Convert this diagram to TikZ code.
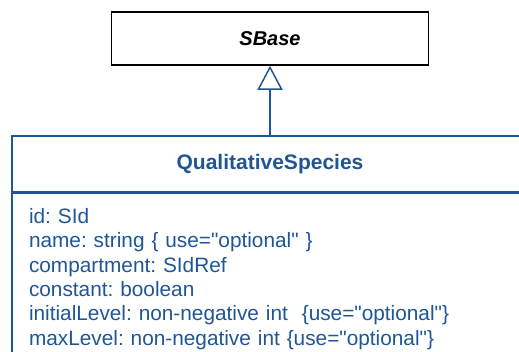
\documentclass[tikz,border=0pt]{standalone}
\usepackage{fontspec}
\setmainfont{Liberation Sans}[Ligatures=TeXOff]
\usetikzlibrary{arrows.meta, positioning}
\definecolor{umlblue}{RGB}{31,86,150}
\frenchspacing

\begin{document}
\begin{tikzpicture}[
        x=1pt, y=-1pt,
        every node/.style={draw, line width=1.5pt, inner sep=0pt},
        superclass/.style={minimum width=317pt, minimum height=53pt, font=\fontsize{20}{24}\selectfont\bfseries\itshape},
        classhead/.style={draw=umlblue, text=umlblue, minimum width=516pt, minimum height=56pt, font=\fontsize{21}{24}\selectfont\bfseries},
        classbody/.style={draw=umlblue, text=umlblue, text width=482pt, align=left, inner xsep=17pt, inner ysep=15pt, font=\fontsize{20.8}{24.4}\selectfont},
        arrow/.style={-{Triangle[open, length=24pt, width=25pt]}, line width=1.5pt, umlblue}
    ]
    \useasboundingbox (0,0) rectangle (519,351);
    \clip (0,0) rectangle (519,351);

    \node[superclass] (sbase) at (270,38.5) {SBase};
    \node[classhead, anchor=north] (qs) at (270,135) {QualitativeSpecies};
    \node[classbody, below=0pt of qs] (qsattrs) {id: SId\\
        name: string \{ use="optional" \}\\
        compartment: SIdRef\\
        constant: boolean\\
        initialLevel: non-negative int~ \{use="optional"\}\\
        maxLevel: non-negative int \{use="optional"\}};

    \draw [arrow] (qs) -- (sbase);

    \end{tikzpicture}
\end{document}
